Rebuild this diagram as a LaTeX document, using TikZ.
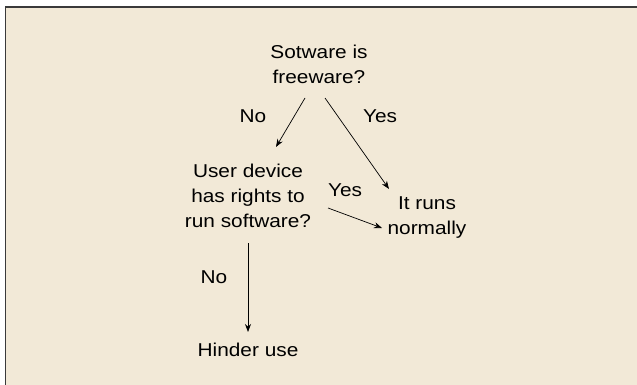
\documentclass[tikz,border=0pt]{standalone}
\usepackage{fontspec}
\setmainfont{Liberation Sans}[FakeStretch=1.12]
\usetikzlibrary{arrows.meta}
\definecolor{bgbeige}{HTML}{F2E9D7}
\definecolor{framegray}{HTML}{3A3A3A}
\tikzset{
  txt/.style={align=center, inner sep=0pt, font=\fontsize{18.6}{25}\selectfont},
  lbl/.style={inner sep=0pt, font=\fontsize{18.6}{25}\selectfont},
  arr/.style={-{Stealth[length=8pt,width=6pt]}, line width=0.7pt, black}
}
\begin{document}
\begin{tikzpicture}[x=1pt,y=-1pt]
\useasboundingbox (0,0) rectangle (637,385);
\fill[white] (0,0) rectangle (637,385);
\fill[bgbeige] (5.5,7) rectangle (640,390);
\draw[framegray, line width=1.3pt] (5.5,390) -- (5.5,7) -- (640,7);

\node[txt] (q1) at (319,64) {Sotware is\\freeware?};
\node[txt] (q2) at (248,196) {User device\\has rights to\\run software?};
\node[txt] (ok) at (427,218) {It runs\\normally};
\node[txt] (hu) at (248,350) {Hinder use};

\node[lbl] (l1) at (253,116) {No};
\node[lbl] (l2) at (380,116) {Yes};
\node[lbl] (l3) at (345,190) {Yes};
\node[lbl] (l4) at (214,277) {No};

\draw[arr] ([shift={(-14,34)}]q1.center) -- ([shift={(28,-49)}]q2.center);
\draw[arr] ([shift={(6,34)}]q1.center) -- ([shift={(-38,-29)}]ok.center);
\draw[arr] ([shift={(80,12)}]q2.center) -- ([shift={(-45,10)}]ok.center);
\draw[arr] ([shift={(0,47)}]q2.center) -- ([shift={(0,-18)}]hu.center);
\end{tikzpicture}
\end{document}
